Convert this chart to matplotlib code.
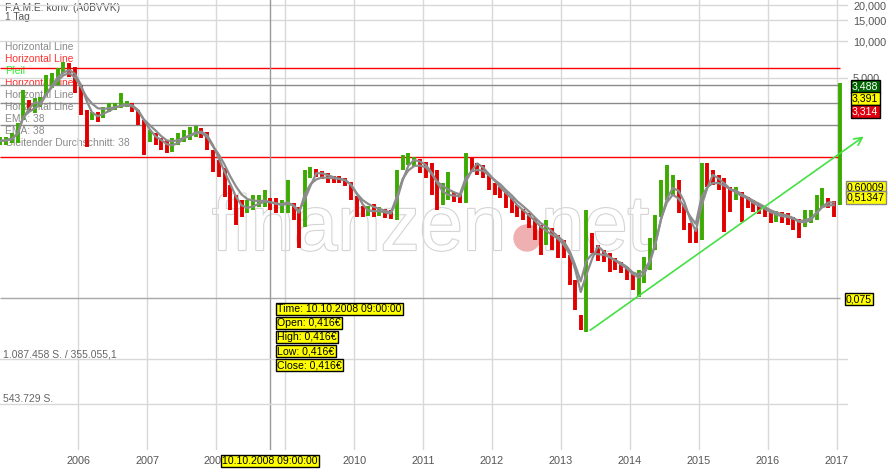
import numpy as np
import pandas as pd
import matplotlib.pyplot as plt
from matplotlib import patheffects
from matplotlib.patches import Ellipse

plt.rcParams['font.family'] = ['Liberation Sans', 'DejaVu Sans']

# monthly bars F.A.M.E. konv. (A0BVVK), Nov 2004 - Jan 2017, price in EUR
dates = pd.date_range('2004-11-01', '2017-01-01', freq='MS') + pd.Timedelta(days=14)

high = [1.62, 1.62,
        1.74, 2.11, 3.95, 3.27, 3.40, 3.47, 5.27, 5.47, 6.01, 6.75, 6.62, 6.13,
        4.35, 2.70, 2.60, 2.60, 2.86, 3.09, 3.09, 3.74, 3.21, 3.09, 2.70, 2.24,
        1.85, 1.74, 1.59, 1.53, 1.59, 1.74, 1.85, 1.95, 1.99, 1.92, 1.78, 1.26,
        1.044, 0.896, 0.648, 0.536, 0.487, 0.487, 0.536, 0.536, 0.589, 0.506, 0.506, 0.487,
        0.713, 0.460, 0.427, 0.863, 0.914, 0.880, 0.846, 0.815, 0.769, 0.769, 0.740, 0.686,
        0.526, 0.435, 0.435, 0.452, 0.427, 0.411, 0.403, 0.863, 1.148, 1.19, 1.105, 1.064,
        1.005, 0.986, 0.863, 0.673, 0.830, 0.567, 0.557, 1.19, 1.084, 0.986, 0.949, 0.784,
        0.673, 0.624, 0.567, 0.506, 0.443, 0.411, 0.380, 0.346, 0.302, 0.333, 0.285, 0.250,
        0.227, 0.171, 0.106, 0.0545, 0.403, 0.259, 0.207, 0.188, 0.177, 0.161, 0.148, 0.136,
        0.124, 0.128, 0.164, 0.236, 0.366, 0.713, 0.949, 0.784, 0.713, 0.443, 0.314, 0.285,
        0.986, 0.986, 0.863, 0.784, 0.740, 0.624, 0.624, 0.567, 0.516, 0.487, 0.452, 0.427,
        0.403, 0.395, 0.388, 0.380, 0.352, 0.339, 0.403, 0.403, 0.536, 0.612, 0.506, 0.478,
        4.53]

low = [1.389, 1.39,
       1.44, 1.44, 2.24, 2.60, 2.55, 2.86, 3.60, 4.11, 4.35, 5.47, 5.07, 3.74,
       2.46, 1.34, 2.24, 2.15, 2.32, 2.60, 2.70, 2.80, 2.86, 2.60, 2.03, 1.148,
       1.47, 1.389, 1.26, 1.19, 1.215, 1.389, 1.47, 1.53, 1.62, 1.59, 1.26, 0.830,
       0.755, 0.516, 0.403, 0.302, 0.352, 0.380, 0.403, 0.427, 0.427, 0.403, 0.380, 0.380,
       0.380, 0.333, 0.195, 0.291, 0.740, 0.755, 0.727, 0.673, 0.673, 0.673, 0.636, 0.487,
       0.352, 0.352, 0.359, 0.352, 0.359, 0.346, 0.339, 0.333, 0.863, 0.949, 0.931, 0.815,
       0.740, 0.536, 0.403, 0.443, 0.487, 0.469, 0.460, 0.460, 0.830, 0.784, 0.740, 0.589,
       0.536, 0.506, 0.418, 0.380, 0.352, 0.333, 0.285, 0.227, 0.171, 0.207, 0.188, 0.161,
       0.161, 0.0965, 0.060, 0.0409, 0.0394, 0.177, 0.151, 0.148, 0.124, 0.128, 0.121, 0.106,
       0.0877, 0.0767, 0.1005, 0.128, 0.188, 0.352, 0.487, 0.536, 0.380, 0.275, 0.215, 0.215,
       0.227, 0.624, 0.648, 0.589, 0.264, 0.388, 0.487, 0.320, 0.418, 0.388, 0.373, 0.352,
       0.314, 0.320, 0.314, 0.302, 0.275, 0.236, 0.291, 0.314, 0.333, 0.427, 0.418, 0.352,
       0.443]

close = [1.50, 1.53,
         1.62, 2.03, 3.27, 2.97, 3.09, 3.27, 4.61, 4.97, 5.57, 6.01, 5.79, 4.35,
         2.97, 2.32, 2.46, 2.41, 2.70, 2.86, 2.91, 3.03, 3.03, 2.80, 2.24, 1.68,
         1.68, 1.53, 1.389, 1.31, 1.44, 1.59, 1.68, 1.74, 1.85, 1.78, 1.389, 0.986,
         0.863, 0.648, 0.487, 0.427, 0.403, 0.427, 0.460, 0.469, 0.487, 0.443, 0.435, 0.443,
         0.487, 0.388, 0.302, 0.784, 0.830, 0.815, 0.784, 0.740, 0.727, 0.713, 0.686, 0.557,
         0.403, 0.388, 0.403, 0.388, 0.388, 0.373, 0.366, 0.713, 1.044, 1.044, 1.044, 0.949,
         0.863, 0.648, 0.536, 0.536, 0.536, 0.516, 0.506, 1.044, 0.986, 0.896, 0.830, 0.673,
         0.612, 0.567, 0.487, 0.443, 0.388, 0.366, 0.333, 0.285, 0.259, 0.264, 0.227, 0.207,
         0.188, 0.128, 0.0797, 0.0450, 0.227, 0.207, 0.171, 0.168, 0.151, 0.141, 0.133, 0.121,
         0.102, 0.110, 0.141, 0.188, 0.302, 0.536, 0.648, 0.648, 0.443, 0.320, 0.250, 0.236,
         0.830, 0.784, 0.740, 0.673, 0.589, 0.536, 0.557, 0.487, 0.460, 0.435, 0.411, 0.388,
         0.359, 0.359, 0.352, 0.346, 0.320, 0.296, 0.339, 0.359, 0.443, 0.487, 0.460, 0.443,
         3.488]

# drawn tools
hline_prices = [0.075, 6.0, 1.105, 4.35, 3.09, 2.03]
hline_colors = ['#a8a8a8', '#ff0000', '#ff0000', '#8a8a8a', '#8a8a8a', '#8a8a8a']
arrow_dates = pd.to_datetime(['2013-05-23', '2017-06-03'])
arrow_prices = [0.0394, 1.68]
crosshair_date = pd.Timestamp('2008-10-10 09:00')

years = list(range(2006, 2018))
year_labels = [str(y) if y != 2009 else '' for y in years]  # 2009 sits under the date box
price_ticks = [5, 10, 15, 20]
price_tick_labels = ['5,000', '10,000', '15,000', '20,000']
vol_ticks = [543729, 1087458]
vol_tick_labels = ['543.729 S.', '1.087.458 S. / 355.055,1']

legend_items = [('Horizontal Line', '#8a8a8a'), ('Horizontal Line', '#ff3333'),
                ('Pfeil', '#33ee33'), ('Horizontal Line', '#ff3333'),
                ('Horizontal Line', '#8a8a8a'), ('Horizontal Line', '#8a8a8a'),
                ('EMA: 38', '#8a8a8a'), ('EMA: 38', '#8a8a8a'),
                ('Gleitender Durchschnitt: 38', '#8a8a8a')]
tooltip = ['Time: 10.10.2008 09:00:00', 'Open: 0,416€', 'High: 0,416€',
           'Low: 0,416€', 'Close: 0,416€']

W, H = 890, 469


def fx(px):
    return px / W


def fy(py):
    return 1 - py / H


fig = plt.figure(figsize=(W / 100, H / 100), dpi=100)
rect = [0, 19 / H, 848 / W, 450 / H]
ax = fig.add_axes(rect)
ax.set_yscale('log')
ax.set_ylim(0.004142, 22.0)
ax.set_xlim(pd.Timestamp('2004-11-13'), pd.Timestamp('2017-02-28'))
for s in ax.spines.values():
    s.set_visible(False)

# grid
ax.set_xticks([pd.Timestamp(f'{y}-01-01') for y in years])
ax.set_xticklabels(year_labels)
ax.set_yticks(price_ticks)
ax.set_yticklabels(price_tick_labels)
ax.yaxis.set_minor_locator(plt.NullLocator())
ax.yaxis.tick_right()
ax.tick_params(axis='both', length=0, labelsize=7.8, colors='#555555')
ax.tick_params(axis='x', pad=4.5)
ax.tick_params(axis='y', pad=3.6)
for lab in ax.get_yticklabels():
    lab.set_horizontalalignment('left')
ax.grid(True, color='#d8d8d8', lw=1)

# volume pane (no volume drawn, only its scale)
axv = fig.add_axes(rect, sharex=ax)
axv.patch.set_visible(False)
axv.set_ylim(-12083, 5425220)
axv.axis('off')
for v, lab in zip(vol_ticks, vol_tick_labels):
    axv.axhline(v, color='#d8d8d8', lw=1, zorder=0)
    axv.text(0.003, v, lab, transform=axv.get_yaxis_transform(), fontsize=7.5,
             color='#666666', va='bottom', ha='left')

# watermark
wm = [patheffects.withStroke(linewidth=1.6, foreground='#d4d4d4')]
ax.text(fx(212), fy(250), 'finanzen', transform=fig.transFigure, fontsize=56,
        color='white', va='baseline', ha='left', zorder=0.5, path_effects=wm)
ax.text(fx(541), fy(250), 'net', transform=fig.transFigure, fontsize=56,
        color='white', va='baseline', ha='left', zorder=0.5, path_effects=wm)
ax.add_patch(Ellipse((fx(527), fy(238)), 26 / W, 26 / H, transform=fig.transFigure,
                     color='#eeb0b0', zorder=0.6))

# legend text (under the data)
ax.text(fx(5), fy(8), 'F.A.M.E. konv. (A0BVVK)', transform=fig.transFigure,
        fontsize=7.4, color='#555555', va='center', zorder=1)
ax.text(fx(5), fy(17.5), '1 Tag', transform=fig.transFigure,
        fontsize=7.4, color='#555555', va='center', zorder=1)
for i, (lab, c) in enumerate(legend_items):
    ax.text(fx(5), fy(46.5 + 12 * i), lab, transform=fig.transFigure,
            fontsize=7.4, color=c, va='center', zorder=1)

# horizontal lines
for p, c in zip(hline_prices, hline_colors):
    ax.hlines(p, pd.Timestamp('2004-11-13'), dates[-1], color=c, lw=1, zorder=2)

# crosshair
ax.axvline(crosshair_date, color='#999999', lw=1, zorder=2)

# bars
prev = np.r_[close[0], close[:-1]]
cols = np.where(np.array(close) >= prev, '#3caa00', '#e00000')
ax.vlines(dates, low, high, colors=cols, lw=2.8, zorder=3)

# EMA 38 / SMA 38
s = pd.Series(close, index=dates)
ema = s.ewm(span=4, adjust=False).mean()
sma = s.rolling(3, min_periods=1).mean()
ax.plot(dates[:-1], ema[:-1], color='#8c8c8c', lw=1.6, zorder=4)
ax.plot(dates[:-1], sma[:-1], color='#8c8c8c', lw=1.6, zorder=4)

# arrow
ax.annotate('', xy=(arrow_dates[1], arrow_prices[1]),
            xytext=(arrow_dates[0], arrow_prices[0]),
            arrowprops=dict(arrowstyle='->', color='#44e044', lw=1.2, mutation_scale=14),
            annotation_clip=False, zorder=5)


def box(px, py, txt, fc, tc='black', ec='black', ha='left', fs=7.6):
    fig.text(fx(px), fy(py), txt, fontsize=fs, color=tc, ha=ha, va='center',
             bbox=dict(boxstyle='square,pad=0.12', fc=fc, ec=ec, lw=1), zorder=10)


# right value labels
box(852, 86.5, '3,488', '#006400', tc='white')
box(852, 98.5, '3,391', '#ffff00')
box(852, 111.5, '3,314', '#e00010', tc='white')
box(847, 187.5, '0,60009', '#ffff00', ec='#888888')
box(847, 197.5, '0,51347', '#ffff00', ec='#888888')
box(846, 299, '0,075', '#ffff00')

# tooltip
for i, t in enumerate(tooltip):
    box(277, 309 + 14 * i, t, '#ffff00')
box(270, 461, '10.10.2008 09:00:00', '#ffff00', ha='center')

fig.savefig('out.png', dpi=100)
